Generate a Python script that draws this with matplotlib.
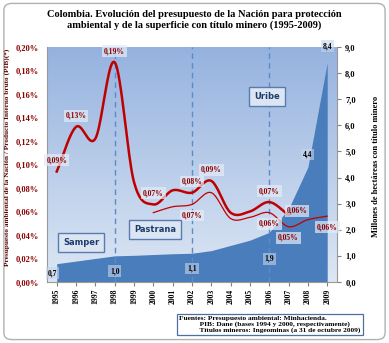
import numpy as np
import matplotlib
matplotlib.use('Agg')
import matplotlib.pyplot as plt
from matplotlib.patches import FancyBboxPatch
from matplotlib.ticker import FuncFormatter
from matplotlib.colors import LinearSegmentedColormap

# data
years = list(range(1995, 2010))
# budget / GDP, base 1994 (1995-2007), percent
pct_base94 = [0.094, 0.132, 0.122, 0.187, 0.085, 0.066, 0.078, 0.076, 0.086, 0.059, 0.060, 0.068, 0.057]
# budget / GDP, base 2000 (2000-2009), percent
pct_base00 = [0.059, 0.064, 0.066, 0.076, 0.054, 0.055, 0.059, 0.047, 0.053, 0.056]
# millions of hectares with mining title
hectares = [0.7, 0.8, 0.9, 1.0, 1.02, 1.05, 1.08, 1.1, 1.2, 1.4, 1.6, 1.9, 2.8, 4.4, 8.4]

lab94 = {1995: '0,09%', 1996: '0,13%', 1998: '0,19%', 2000: '0,07%', 2002: '0,08%',
         2003: '0,09%', 2006: '0,07%', 2007: '0,06%'}
lab00 = {2002: '0,07%', 2006: '0,06%', 2007: '0,05%', 2009: '0,06%'}
lab_ha = {1995: '0,7', 1998: '1,0', 2002: '1,1', 2006: '1,9', 2008: '4,4', 2009: '8,4'}

presidents = ['Samper', 'Pastrana', 'Uribe']

RED = '#c00000'
DRED = '#8b0000'
BLUE = '#4a7dbb'
SERIF = 'Liberation Serif'


def smooth(x, y, n=20):
    # Catmull-Rom curve through the points, like Excel's smoothed line
    x = np.asarray(x, float)
    y = np.asarray(y, float)
    px = np.concatenate([[2 * x[0] - x[1]], x, [2 * x[-1] - x[-2]]])
    py = np.concatenate([[2 * y[0] - y[1]], y, [2 * y[-1] - y[-2]]])
    xs, ys = [], []
    t = np.linspace(0, 1, n, endpoint=False)
    for i in range(1, len(px) - 2):
        for arr, out in ((px, xs), (py, ys)):
            p0, p1, p2, p3 = arr[i - 1], arr[i], arr[i + 1], arr[i + 2]
            out.extend(0.5 * (2 * p1 + (-p0 + p2) * t + (2 * p0 - 5 * p1 + 4 * p2 - p3) * t ** 2
                              + (-p0 + 3 * p1 - 3 * p2 + p3) * t ** 3))
    xs.append(x[-1])
    ys.append(y[-1])
    return np.array(xs), np.array(ys)


fig = plt.figure(figsize=(3.89, 3.43), dpi=100)
fig.patches.append(FancyBboxPatch((0.01, 0.01), 0.98, 0.98, boxstyle='round,pad=0,rounding_size=0.02',
                                  transform=fig.transFigure, facecolor='white', edgecolor='#b0b0b0',
                                  linewidth=1.0, zorder=-10))

ax2 = fig.add_axes([0.121, 0.178, 0.745, 0.685])
ax = ax2.twinx()
ax2.yaxis.tick_right()
ax2.yaxis.set_label_position('right')
ax.yaxis.tick_left()
ax.yaxis.set_label_position('left')

x = np.arange(len(years))

# gradient background
grad = np.linspace(0, 1, 256).reshape(-1, 1)
cmap = LinearSegmentedColormap.from_list('bg', ['#dde7f4', '#95b2df'])
ax2.imshow(grad, aspect='auto', cmap=cmap, origin='lower', extent=[-0.5, 14.5, 0, 9], zorder=0)

# area
ax2.fill_between(x, hectares, 0, color=BLUE, linewidth=0, zorder=1)
ax2.set_xlim(-0.5, 14.5)
ax2.set_ylim(0, 9)
ax2.set_yticks(np.arange(0, 9.1, 1))
ax2.yaxis.set_major_formatter(FuncFormatter(lambda v, p: f'{v:.1f}'.replace('.', ',')))

for yr in (1998, 2002, 2006):
    ax2.axvline(years.index(yr), color='#5b8bc8', linestyle=(0, (4, 3)), linewidth=1.0, zorder=2)

for yr, t in lab_ha.items():
    i = years.index(yr)
    v = hectares[i]
    off = {1995: -7, 1998: -11, 2002: -11, 2006: -19, 2008: 9, 2009: 12}[yr]
    dx = -3 if yr == 1995 else 0
    ax2.annotate(t, (i, v), xytext=(dx, off), textcoords='offset points', ha='center', va='center',
                 fontsize=5.5, fontweight='bold', family=SERIF, color='black', zorder=3,
                 bbox=dict(boxstyle='square,pad=0.25', fc='#c5d5ec', ec='none', alpha=0.6))

# budget lines
x94 = np.arange(len(pct_base94))
sx, sy = smooth(x94, pct_base94)
ax.plot(sx, sy, color=RED, linewidth=1.8, zorder=4)
x00 = np.arange(5, 5 + len(pct_base00))
sx, sy = smooth(x00, pct_base00)
ax.plot(sx, sy, color=RED, linewidth=0.9, zorder=4)

box = dict(boxstyle='square,pad=0.25', fc='#e4ecf7', ec='none', alpha=0.7)
for yr, t in lab94.items():
    i = years.index(yr)
    dx, dy = (6, 3) if yr == 2007 else (0, 8)
    ax.annotate(t, (i, pct_base94[i]), xytext=(dx, dy), textcoords='offset points', ha='center',
                va='center', fontsize=5.5, fontweight='bold', family=SERIF, color=DRED, zorder=5, bbox=box)
for yr, t in lab00.items():
    i = years.index(yr) - 5
    ax.annotate(t, (i + 5, pct_base00[i]), xytext=(0, -8), textcoords='offset points', ha='center',
                va='center', fontsize=5.5, fontweight='bold', family=SERIF, color=DRED, zorder=5, bbox=box)

ax.set_ylim(0, 0.20)
ax.set_yticks(np.arange(0, 0.201, 0.02))
ax.yaxis.set_major_formatter(FuncFormatter(lambda v, p: f'{v:.2f}%'.replace('.', ',')))
ax.set_xlim(-0.5, 14.5)

# president boxes (axes fraction positions)
pres_pos = [(0.118, 0.17), (0.373, 0.225), (0.76, 0.79)]
for name, (xp, yp) in zip(presidents, pres_pos):
    ax.text(xp, yp, name, ha='center', va='center', fontsize=6, fontweight='bold', color='#1f3c6e',
            transform=ax.transAxes, zorder=6,
            bbox=dict(boxstyle='square,pad=0.6', fc='#dce6f2', ec='#5a7bb0', lw=1.0))

ax2.set_xticks(x)
ax2.set_xticklabels([str(y) for y in years], rotation=90, fontsize=5.5, fontweight='bold', family=SERIF)
ax2.tick_params(axis='x', length=3, pad=2, color='#808080')
ax2.tick_params(axis='y', labelsize=6, length=3, color='#808080', pad=3)
ax.tick_params(axis='y', labelsize=6, length=0, pad=6, labelcolor=DRED)
for lab in ax.get_yticklabels():
    lab.set_fontweight('bold'); lab.set_family(SERIF)
for lab in ax2.get_yticklabels():
    lab.set_fontweight('bold'); lab.set_family(SERIF)

for a in (ax, ax2):
    for s in a.spines.values():
        s.set_visible(False)
for side in ('bottom', 'right', 'left'):
    ax2.spines[side].set_visible(True)
    ax2.spines[side].set_color('#999999')

ax.set_ylabel('Presupuesto ambiental de la Nación / Producto Interno bruto (PIB)(*)', fontsize=5.2,
              fontweight='bold', family=SERIF, color='#5a0000')
ax.yaxis.set_label_coords(-0.128, 0.53)
ax2.set_ylabel('Millones de hectáreas con título minero', fontsize=6, fontweight='bold',
               family=SERIF, color='black')
ax2.yaxis.set_label_coords(1.12, 0.49)

fig.text(0.5, 0.97, 'Colombia. Evolución del presupuesto de la Nación para protección\n'
         'ambiental y de la superficie con título minero (1995-2009)', ha='center', va='top',
         fontsize=7.5, fontweight='bold', family=SERIF, linespacing=1.15)

fig.text(0.46, 0.03, 'Fuentes: Presupuesto ambiental: Minhacienda.\n'
         '           PIB: Dane (bases 1994 y 2000, respectivamente)\n'
         '           Títulos mineros: Ingeominas (a 31 de octubre 2009)', ha='left', va='bottom',
         fontsize=5.3, fontweight='bold', family=SERIF, linespacing=1.05,
         bbox=dict(boxstyle='square,pad=0.3', fc='white', ec='#4f6fa0', lw=0.9))

fig.savefig('out.png', dpi=100)
